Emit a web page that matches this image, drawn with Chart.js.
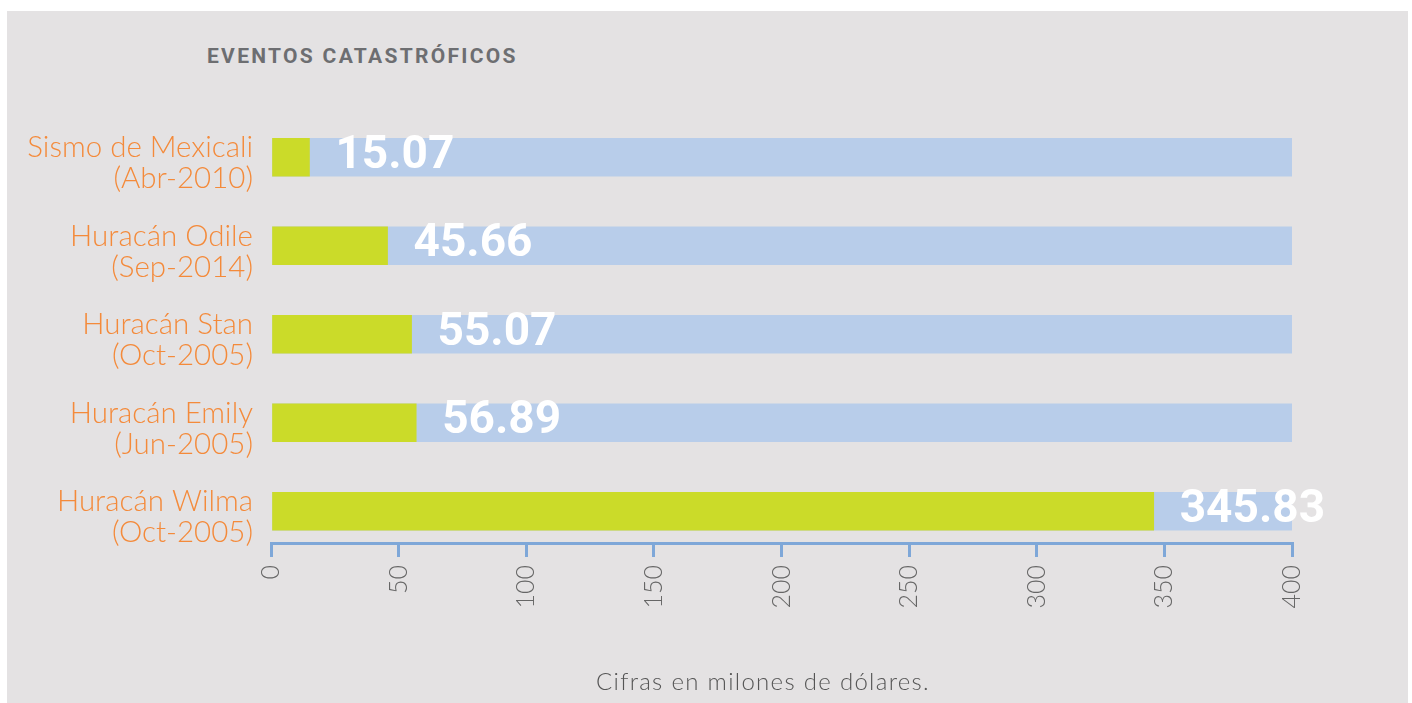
<!DOCTYPE html>
<html lang="es">
<head>
<meta charset="utf-8">
<title>Eventos catastróficos</title>
<script src="https://cdn.jsdelivr.net/npm/chart.js@4.4.1/dist/chart.umd.min.js"></script>
<style>
  body { margin: 0; background: #ffffff; width: 1412px; height: 703px; position: relative; overflow: hidden; }
  #panel { position: absolute; left: 7px; top: 11px; width: 1401px; height: 692px; background: #e4e2e3; }
  #titulo { position: absolute; left: 200px; top: 33px; margin: 0; font: 700 21px Roboto, sans-serif; letter-spacing: 2.3px; color: #6d6e71; }
  #nota { position: absolute; left: 0; width: 1512px; top: 655px; margin: 0; text-align: center; font: 300 24px Lato, sans-serif; letter-spacing: 1.3px; color: #555555; }
  canvas { position: absolute; left: 0; top: 0; }
</style>
</head>
<body>
<div id="panel">
  <h2 id="titulo">EVENTOS CATASTRÓFICOS</h2>
  <canvas id="grafica" width="1401" height="692"></canvas>
  <p id="nota">Cifras en milones de dólares.</p>
</div>
<script>
// datos del gráfico
const eventNames = ['Sismo de Mexicali', 'Huracán Odile', 'Huracán Stan', 'Huracán Emily', 'Huracán Wilma'];
const eventDates = ['(Abr-2010)', '(Sep-2014)', '(Oct-2005)', '(Jun-2005)', '(Oct-2005)'];
const montos = [15.07, 45.66, 55.07, 56.89, 345.83];
const topes = [400, 400, 400, 400, 400];
const xTicks = [0, 50, 100, 150, 200, 250, 300, 350, 400];

// etiquetas blancas con el monto, justo despues de la barra verde
const etiquetasMonto = {
    id: 'etiquetasMonto',
    afterDatasetsDraw(chart) {
        const ctx = chart.ctx;
        const meta = chart.getDatasetMeta(0);
        ctx.save();
        ctx.font = '700 46px Roboto, sans-serif';
        ctx.fillStyle = '#ffffff';
        ctx.textAlign = 'left';
        ctx.textBaseline = 'middle';
        meta.data.forEach((bar, i) => {
            ctx.fillText(montos[i].toFixed(2), bar.x + 26, bar.y - 1);
        });
        ctx.restore();
    }
};

const ctx = document.getElementById('grafica').getContext('2d');
const grafica = new Chart(ctx, {
    type: 'bar',
    data: {
        datasets: [{
            label: 'Monto',
            data: montos.map((v, i) => ({ x: v, y: i })),
            backgroundColor: '#cbdb29',
            barThickness: 38,
            grouped: false
        }, {
            label: 'Tope',
            data: topes.map((v, i) => ({ x: v, y: i })),
            backgroundColor: '#b8cdea',
            barThickness: 38,
            grouped: false
        }]
    },
    options: {
        indexAxis: 'y',
        responsive: false,
        animation: false,
        devicePixelRatio: 1,
        layout: { padding: { top: 102, right: 116, bottom: 90, left: 0 } },
        plugins: {
            legend: { display: false },
            tooltip: { enabled: false }
        },
        scales: {
            y: {
                type: 'linear',
                reverse: true,
                offset: false,
                min: -0.5,
                max: 4.359,
                afterBuildTicks: (s) => { s.ticks = eventNames.map((_, i) => ({ value: i })); },
                afterFit: (s) => { s.width = 264; },
                grid: { display: false, offset: false },
                border: { display: false },
                ticks: {
                    padding: 10,
                    labelOffset: 6,
                    color: '#f48a3a',
                    font: { family: 'Lato', size: 29.5, weight: 300, lineHeight: 1.05 },
                    callback: (v) => [eventNames[v], eventDates[v]]
                }
            },
            x: {
                type: 'linear',
                min: 0,
                max: 400,
                afterBuildTicks: (s) => { s.ticks = xTicks.map((v) => ({ value: v })); },
                afterFit: (s) => { s.height = 70; },
                grid: {
                    drawOnChartArea: false,
                    drawTicks: true,
                    tickLength: 14,
                    color: '#7ea7d8',
                    lineWidth: 3
                },
                border: { color: '#7ea7d8', width: 3 },
                ticks: {
                    minRotation: 90,
                    maxRotation: 90,
                    padding: 8,
                    color: '#666666',
                    font: { family: 'Lato', size: 25, weight: 300 }
                }
            }
        }
    },
    plugins: [etiquetasMonto]
});
</script>
</body>
</html>
